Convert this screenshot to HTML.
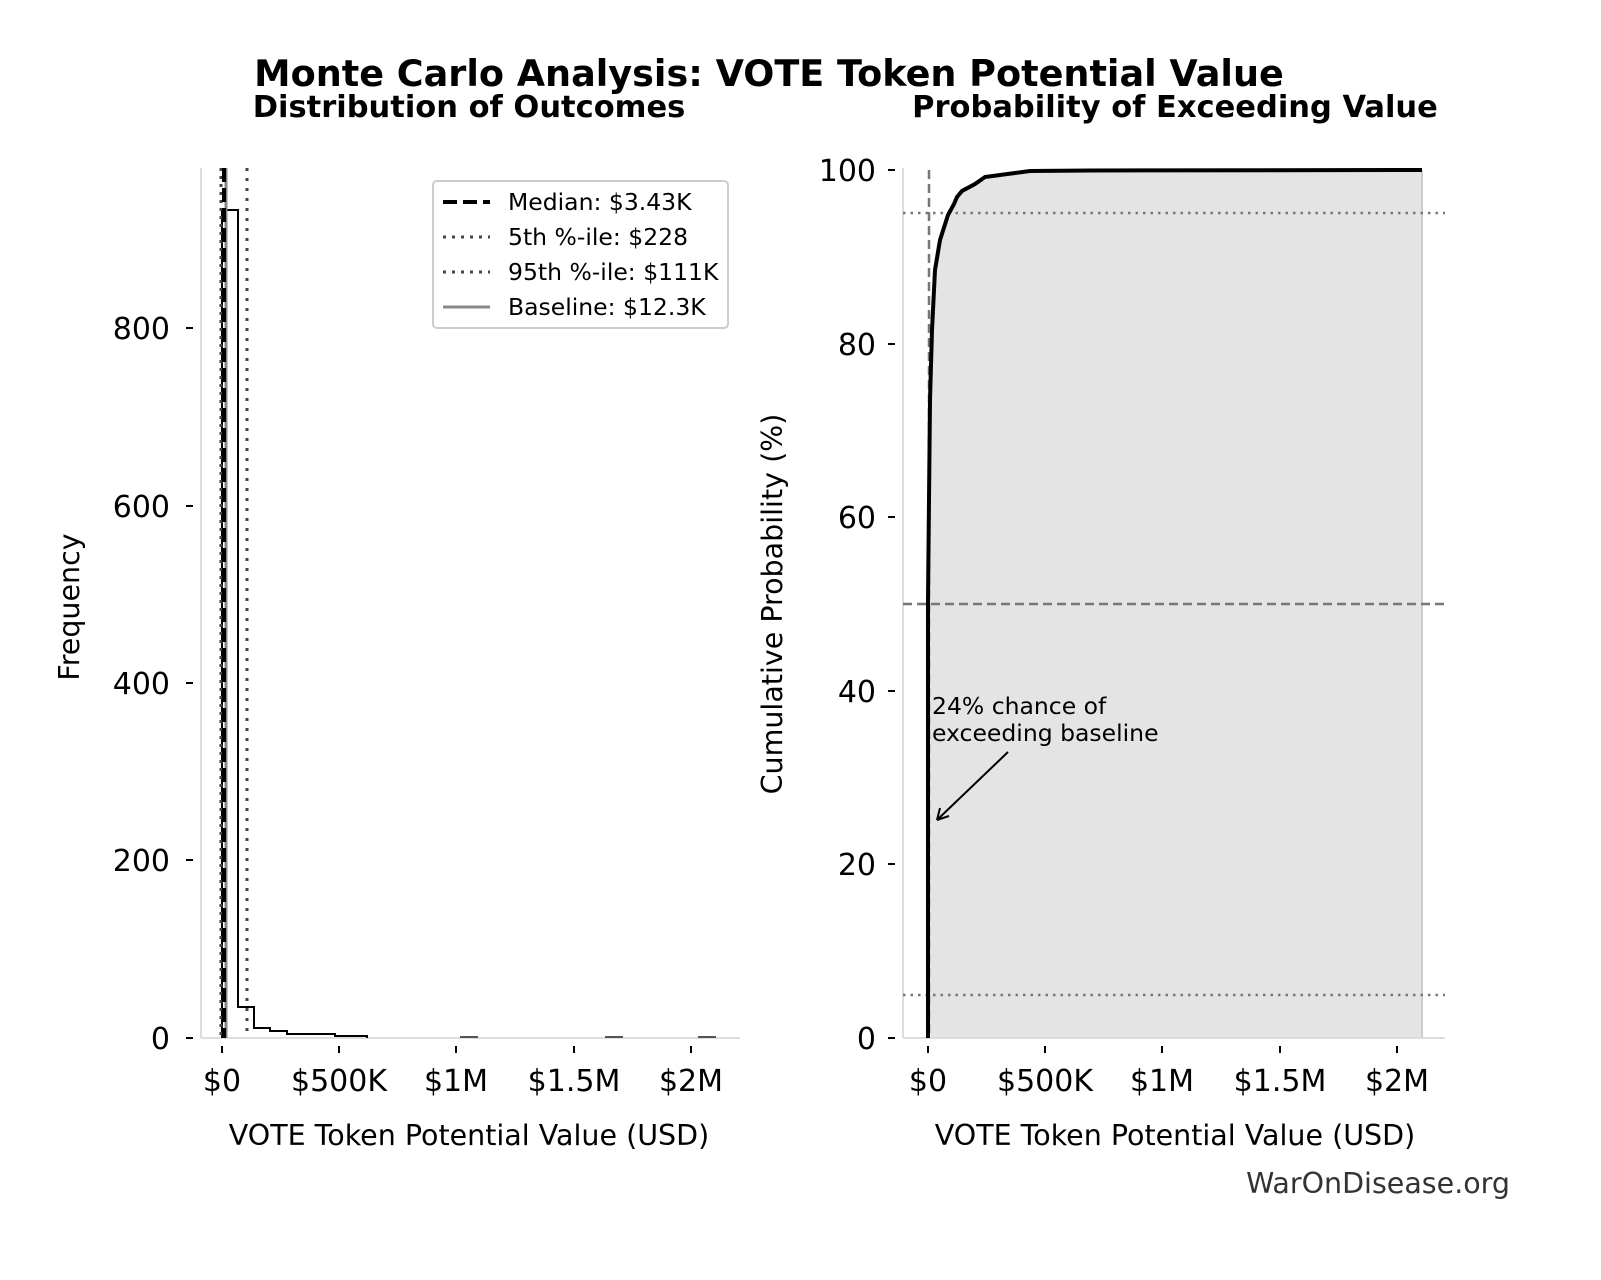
<!DOCTYPE html>
<html><head><meta charset="utf-8"><style>
html,body{margin:0;padding:0;background:#fff;}
svg{display:block;font-family:"DejaVu Sans","Liberation Sans",sans-serif;}
</style></head><body>
<svg width="1601" height="1280" viewBox="0 0 1601 1280" xmlns="http://www.w3.org/2000/svg">
<rect width="1601" height="1280" fill="#fff"/>
<text x="769" y="86" font-size="36.6" font-weight="bold" text-anchor="middle">Monte Carlo Analysis: VOTE Token Potential Value</text>
<text x="469" y="117" font-size="30.5" font-weight="bold" text-anchor="middle">Distribution of Outcomes</text>
<text x="1175" y="117" font-size="30.5" font-weight="bold" text-anchor="middle">Probability of Exceeding Value</text>

<!-- LEFT PANEL -->
<g>
<line x1="201" y1="168" x2="201" y2="1038" stroke="#ddd" stroke-width="2"/>
<line x1="201" y1="1038" x2="740" y2="1038" stroke="#ddd" stroke-width="2"/>
<path d="M222 1038 V210 H238 V1007 H254 V1028 H270 V1031 H287 V1034 H303 V1034 H319 V1034 H335 V1036 H351 V1036 H367 V1038" fill="none" stroke="#000" stroke-width="2"/>
<line x1="460" y1="1037" x2="478" y2="1037" stroke="#555" stroke-width="2"/>
<line x1="605" y1="1037" x2="623" y2="1037" stroke="#555" stroke-width="2"/>
<line x1="698" y1="1037" x2="716" y2="1037" stroke="#555" stroke-width="2"/>
<line x1="221" y1="168" x2="221" y2="1038" stroke="#444" stroke-width="3" stroke-dasharray="3,5"/>
<line x1="226" y1="168" x2="226" y2="1038" stroke="#888" stroke-width="3"/>
<line x1="224" y1="168" x2="224" y2="1038" stroke="#000" stroke-width="4" stroke-dasharray="14,6"/>
<line x1="247" y1="168" x2="247" y2="1038" stroke="#444" stroke-width="3" stroke-dasharray="3,7"/>
<g stroke="#000" stroke-width="2">
<line x1="186" y1="1038" x2="193" y2="1038"/><line x1="186" y1="860" x2="193" y2="860"/>
<line x1="186" y1="683" x2="193" y2="683"/><line x1="186" y1="506" x2="193" y2="506"/>
<line x1="186" y1="328" x2="193" y2="328"/>
<line x1="222" y1="1046" x2="222" y2="1053"/><line x1="339" y1="1046" x2="339" y2="1053"/>
<line x1="456" y1="1046" x2="456" y2="1053"/><line x1="574" y1="1046" x2="574" y2="1053"/>
<line x1="691" y1="1046" x2="691" y2="1053"/>
</g>
<g font-size="30" text-anchor="end">
<text x="170" y="1049">0</text><text x="170" y="871">200</text><text x="170" y="694">400</text>
<text x="170" y="517">600</text><text x="170" y="339">800</text>
</g>
<g font-size="30" text-anchor="middle">
<text x="222" y="1091">$0</text><text x="339" y="1091">$500K</text><text x="456" y="1091">$1M</text>
<text x="574" y="1091">$1.5M</text><text x="691" y="1091">$2M</text>
</g>
<text x="469" y="1145" font-size="28.5" text-anchor="middle">VOTE Token Potential Value (USD)</text>
<text transform="translate(79,607) rotate(-90)" font-size="28.5" text-anchor="middle">Frequency</text>
<rect x="433" y="181" width="295" height="147" rx="4" fill="#fff" stroke="#ccc" stroke-width="2"/>
<line x1="443" y1="202" x2="490" y2="202" stroke="#000" stroke-width="4" stroke-dasharray="14,6"/>
<line x1="443" y1="237" x2="490" y2="237" stroke="#444" stroke-width="3" stroke-dasharray="3,6"/>
<line x1="443" y1="272" x2="490" y2="272" stroke="#444" stroke-width="3" stroke-dasharray="3,6"/>
<line x1="443" y1="307" x2="490" y2="307" stroke="#888" stroke-width="3"/>
<g font-size="23.5">
<text x="508" y="210">Median: $3.43K</text>
<text x="508" y="245">5th %-ile: $228</text>
<text x="508" y="280">95th %-ile: $111K</text>
<text x="508" y="315">Baseline: $12.3K</text>
</g>
</g>

<!-- RIGHT PANEL -->
<g>
<path d="M928 1038 L928 600 L930 400 L932 330 L935 270 L940 240 L948 215 L954 204 L957 197 L962 191 L975 184 L985 177 L1000 175 L1015 173 L1030 171 L1090 170.5 L1422 170 L1422 1038 Z" fill="#e4e4e4"/>
<line x1="1422" y1="170" x2="1422" y2="1038" stroke="#ccc" stroke-width="2"/>
<line x1="903" y1="168" x2="903" y2="1038" stroke="#ddd" stroke-width="2"/>
<line x1="903" y1="1038" x2="1445" y2="1038" stroke="#ddd" stroke-width="2"/>
<line x1="903" y1="604" x2="1445" y2="604" stroke="#777" stroke-width="2.5" stroke-dasharray="9,5"/>
<line x1="903" y1="213" x2="1445" y2="213" stroke="#777" stroke-width="2.5" stroke-dasharray="2.5,5"/>
<line x1="903" y1="995" x2="1445" y2="995" stroke="#777" stroke-width="2.5" stroke-dasharray="2.5,5"/>
<line x1="929" y1="170" x2="929" y2="1038" stroke="#777" stroke-width="2.5" stroke-dasharray="9,5"/>
<path d="M928 1038 L928 600 L930 400 L932 330 L935 270 L940 240 L948 215 L954 204 L957 197 L962 191 L975 184 L985 177 L1000 175 L1015 173 L1030 171 L1090 170.5 L1422 170" fill="none" stroke="#000" stroke-width="4"/>
<g stroke="#000" stroke-width="2">
<line x1="888" y1="1038" x2="895" y2="1038"/><line x1="888" y1="864" x2="895" y2="864"/>
<line x1="888" y1="691" x2="895" y2="691"/><line x1="888" y1="517" x2="895" y2="517"/>
<line x1="888" y1="344" x2="895" y2="344"/><line x1="888" y1="170" x2="895" y2="170"/>
<line x1="928" y1="1046" x2="928" y2="1053"/><line x1="1045" y1="1046" x2="1045" y2="1053"/>
<line x1="1162" y1="1046" x2="1162" y2="1053"/><line x1="1280" y1="1046" x2="1280" y2="1053"/>
<line x1="1397" y1="1046" x2="1397" y2="1053"/>
</g>
<g font-size="30" text-anchor="end">
<text x="876" y="1049">0</text><text x="876" y="875">20</text><text x="876" y="702">40</text>
<text x="876" y="528">60</text><text x="876" y="355">80</text><text x="876" y="181">100</text>
</g>
<g font-size="30" text-anchor="middle">
<text x="928" y="1091">$0</text><text x="1045" y="1091">$500K</text><text x="1162" y="1091">$1M</text>
<text x="1280" y="1091">$1.5M</text><text x="1397" y="1091">$2M</text>
</g>
<text x="1175" y="1145" font-size="28.5" text-anchor="middle">VOTE Token Potential Value (USD)</text>
<text transform="translate(782,604) rotate(-90)" font-size="28.5" text-anchor="middle">Cumulative Probability (%)</text>
<g font-size="23.5">
<text x="932" y="714">24% chance of</text>
<text x="932" y="741">exceeding baseline</text>
</g>
<line x1="1008" y1="752" x2="937" y2="820" stroke="#000" stroke-width="2"/>
<path d="M937 820 L940 808 M937 820 L949 816" stroke="#000" stroke-width="2" fill="none"/>
</g>
<text x="1510" y="1193" font-size="28.5" fill="#333" text-anchor="end">WarOnDisease.org</text>
</svg>
</body></html>
